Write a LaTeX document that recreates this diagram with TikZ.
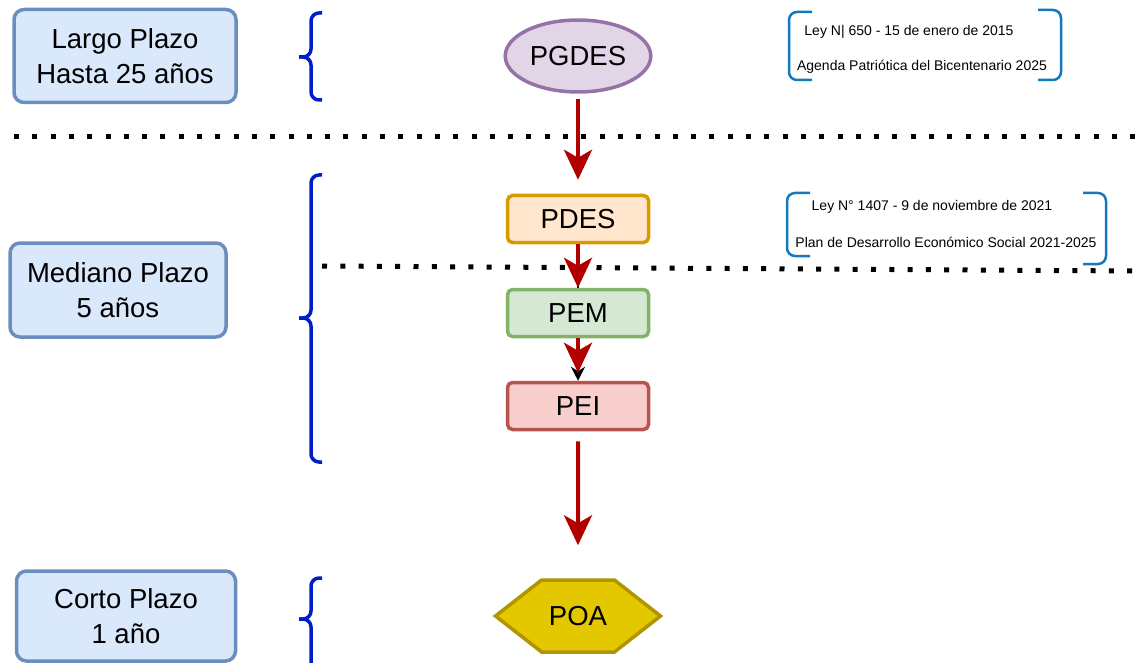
\documentclass[tikz,border=0pt]{standalone}
\usepackage{fontspec}
\setmainfont{Liberation Sans}
\usepackage{xcolor}
\usepackage{tikz}
\usetikzlibrary{shapes,arrows.meta}

\definecolor{plazofill}{HTML}{DAE8FC}
\definecolor{plazodraw}{HTML}{6C8EBF}
\definecolor{pgdesfill}{HTML}{E1D5E7}
\definecolor{pgdesdraw}{HTML}{9673A6}
\definecolor{pdesfill}{HTML}{FFE6CC}
\definecolor{pdesdraw}{HTML}{D79B00}
\definecolor{pemfill}{HTML}{D5E8D4}
\definecolor{pemdraw}{HTML}{82B366}
\definecolor{peifill}{HTML}{F8CECC}
\definecolor{peidraw}{HTML}{B85450}
\definecolor{poafill}{HTML}{E3C800}
\definecolor{poadraw}{HTML}{B09500}
\definecolor{flecharoja}{HTML}{B20000}
\definecolor{llaveazul}{RGB}{0,30,200}
\definecolor{leyazul}{RGB}{20,120,190}

\begin{document}
\begin{tikzpicture}[x=1pt, y=-1pt,
        plazo/.style={draw=plazodraw, fill=plazofill, line width=3.5pt, rounded corners=10pt,
            align=center, font=\fontsize{27.5}{35}\selectfont},
        plan/.style={line width=3.5pt, rounded corners=5pt, minimum width=141pt,
            minimum height=47pt, font=\fontsize{27.5}{32}\selectfont},
        llave/.style={draw=llaveazul, line width=3.5pt, rounded corners=8pt},
        ley/.style={font=\fontsize{14}{17}\selectfont},
        corchete/.style={draw=leyazul, line width=2.5pt, rounded corners=8pt},
        punteado/.style={line width=5pt, dash pattern=on 5pt off 13.3pt},
        flecha/.style={draw=flecharoja, line width=4pt, -{Stealth[length=30pt, width=28pt, inset=8pt]}}]

    \useasboundingbox (0,0) rectangle (1135,663);

    \node[plazo, minimum width=222pt, minimum height=93pt] (largo) at (125,56) {Largo Plazo\\Hasta 25 años};
    \node[plazo, minimum width=216pt, minimum height=94pt] (mediano) at (118,290) {Mediano Plazo\\5 años};
    \node[plazo, minimum width=219pt, minimum height=90pt] (corto) at (126,616) {Corto Plazo\\1 año};

    \draw[llave] (322,13) -- (311,13) -- (311,57) -- (299,57);
    \draw[llave] (299,57) -- (311,57) -- (311,100) -- (322,100);
    \draw[llave] (322,175) -- (311,175) -- (311,318) -- (299,318);
    \draw[llave] (299,318) -- (311,318) -- (311,462) -- (322,462);
    \draw[llave] (322,578) -- (311,578) -- (311,619) -- (299,619);
    \draw[llave] (299,619) -- (311,619) -- (311,672) -- (322,672);

    \node[ellipse, draw=pgdesdraw, fill=pgdesfill, line width=3.5pt, minimum width=143pt,
        minimum height=72pt, font=\fontsize{27.5}{32}\selectfont] (pgdes) at (578,56) {PGDES};
    \node[plan, draw=pdesdraw, fill=pdesfill] (pdes) at (578,219) {PDES};
    \node[plan, draw=pemdraw, fill=pemfill] (pem) at (578,313) {PEM};
    \node[plan, draw=peidraw, fill=peifill] (pei) at (578,406) {PEI};
    \node[signal, signal to=east and west, signal pointer angle=76, draw=poadraw, fill=poafill,
        line width=3.5pt, minimum width=165pt, minimum height=72pt,
        font=\fontsize{27.5}{32}\selectfont] (poa) at (578,616) {POA};

    \coordinate (corte1a) at (14,137);
    \coordinate (corte1b) at (1135,137);
    \coordinate (corte2a) at (322,266);
    \coordinate (corte2b) at (1135,271);
    \draw[punteado] (corte1a) -- (corte1b);
    \draw[punteado] (corte2a) -- (corte2b);

    \draw[line width=1.5pt] (pdes) -- (pem);
    \draw[line width=1.5pt, -{Stealth[length=14pt, width=14pt]}] (pem) -- (pei);
    \draw[flecha, shorten <=5pt, shorten >=14pt] (pgdes) -- (pdes);
    \draw[flecha] (pdes) -- (pem);
    \draw[flecha, shorten >=8pt] (pem) -- (pei);
    \draw[flecha, shorten <=10pt, shorten >=33pt] (pei) -- (poa);

    \draw[corchete] (812,12) -- (789,12) -- (789,80) -- (812,80);
    \draw[corchete] (1038,10) -- (1061,10) -- (1061,80) -- (1038,80);
    \node[ley] (ley650) at (909,32) {Ley N| 650 - 15 de enero de 2015};
    \node[ley] (agenda) at (922,67) {Agenda Patriótica del Bicentenario 2025};

    \draw[corchete] (810,193) -- (787,193) -- (787,256) -- (810,256);
    \draw[corchete] (1083,193) -- (1106,193) -- (1106,264) -- (1083,264);
    \node[ley] (ley1407) at (932,207) {Ley N° 1407 - 9 de noviembre de 2021};
    \node[ley] (pdesley) at (946,242) {Plan de Desarrollo Económico Social 2021-2025};
\end{tikzpicture}
\end{document}
